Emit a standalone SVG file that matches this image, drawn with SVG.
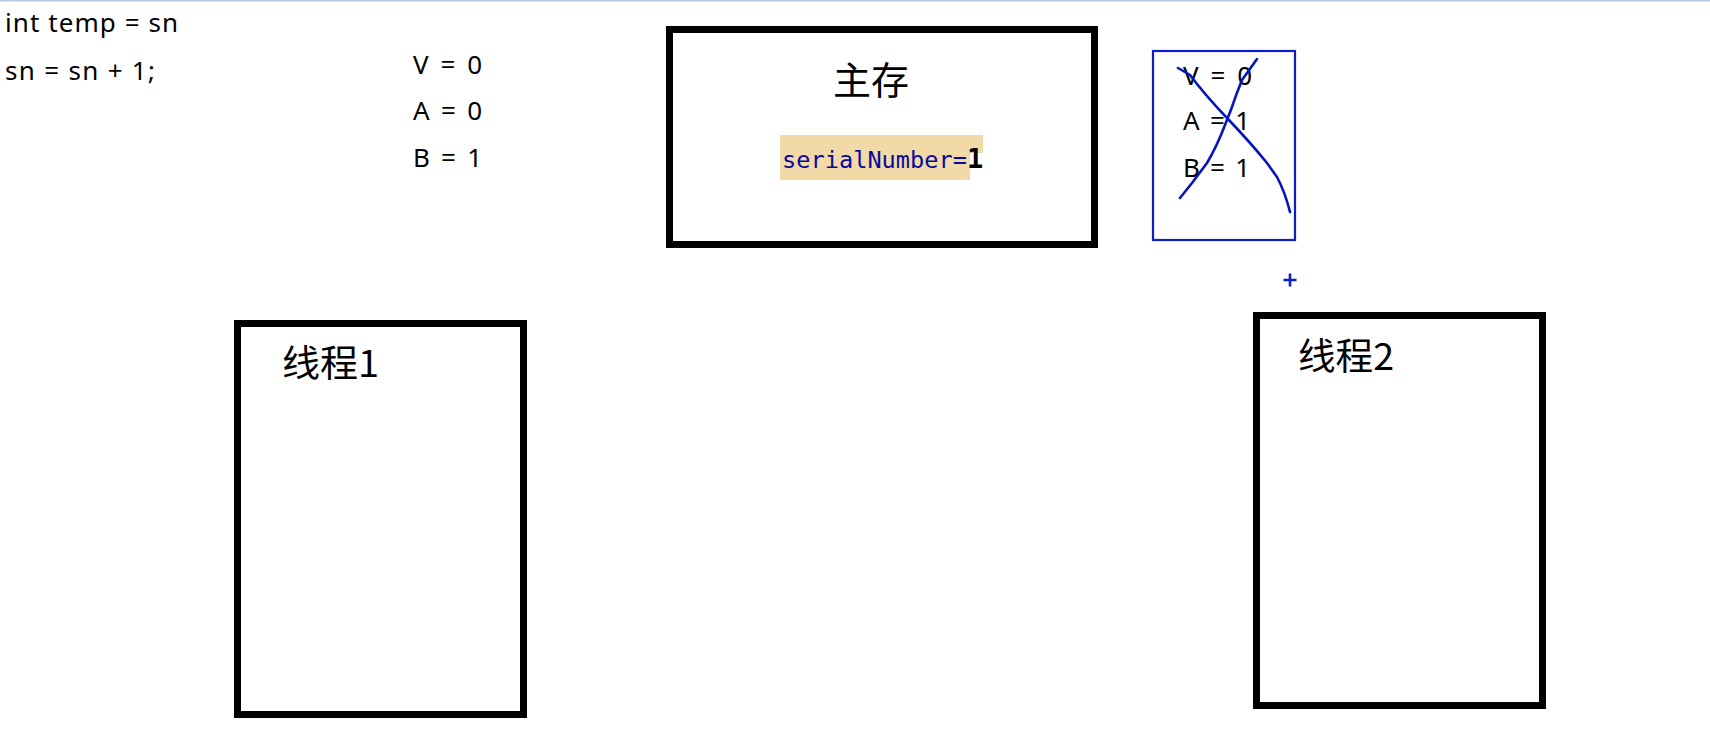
<svg xmlns="http://www.w3.org/2000/svg" width="1710" height="731" viewBox="0 0 1710 731">
<style>
.code{font-family:"Noto Sans","Noto Sans CJK SC",sans-serif;font-size:26px;fill:#000}
.cjk{font-family:"Noto Sans CJK SC","Noto Sans",sans-serif;fill:#000}
.box{fill:#fff;stroke:#000;stroke-width:7}
.mono{font-family:"DejaVu Sans Mono","Liberation Mono",monospace;font-size:23.6px}
.scrib{fill:none;stroke:#0614c0;stroke-width:2.6;stroke-linecap:round;stroke-linejoin:round}
</style>
<rect x="0" y="0" width="1710" height="731" fill="#fff"/>
<rect x="0" y="0" width="1710" height="1.5" fill="#b8c8dc"/>

<g id="code">
<text class="code" x="5" y="32" textLength="173" lengthAdjust="spacing">int temp = sn</text>
<text class="code" x="5" y="80" textLength="150" lengthAdjust="spacing">sn = sn + 1;</text>
</g>

<g id="vars1">
<text class="code" x="413" y="74" textLength="69" lengthAdjust="spacing">V = 0</text>
<text class="code" x="413" y="120" textLength="69" lengthAdjust="spacing">A = 0</text>
<text class="code" x="413" y="167" textLength="69" lengthAdjust="spacing">B = 1</text>
</g>

<g id="main-memory">
<rect class="box" x="669.5" y="29.5" width="425" height="215"/>
<text class="cjk" x="833" y="94" font-size="38">主存</text>
<rect x="780" y="135" width="190" height="45" fill="#f2d9a8"/>
<rect x="970" y="135" width="13" height="18" fill="#f2d9a8"/>
<text class="mono" x="782" y="168" fill="#0a0a9a" textLength="185" lengthAdjust="spacing">serialNumber=</text>
<text x="967" y="168" fill="#000" font-family="DejaVu Sans Mono, monospace" font-size="27" font-weight="600">1</text>
</g>

<g id="cache-box">
<rect x="1153" y="51" width="142" height="189" fill="#fff" stroke="#0a1ec8" stroke-width="2.2"/>
<text class="code" x="1183" y="85" textLength="69" lengthAdjust="spacing">V = 0</text>
<text class="code" x="1183" y="130" textLength="67" lengthAdjust="spacing">A = 1</text>
<text class="code" x="1183" y="177" textLength="67" lengthAdjust="spacing">B = 1</text>
<path class="scrib" d="M1178 68 L1190 75 Q1205 95 1227 118 Q1250 142 1267 163 L1277 177 Q1285 192 1290 212"/>
<path class="scrib" d="M1257 59 L1242 80 Q1236 95 1232 107 L1225 125 Q1217 146 1207 163 L1192 183 L1180 198"/>
</g>

<g id="cursor">
<path d="M1283.5 280 H1296.5 M1290 273.5 V286.5" stroke="#0a1ec8" stroke-width="2.6" fill="none"/>
</g>

<g id="thread1">
<rect class="box" x="237.5" y="323.5" width="286" height="391"/>
<text class="cjk" x="282" y="377" font-size="37" textLength="97" lengthAdjust="spacingAndGlyphs">线程1</text>
</g>

<g id="thread2">
<rect class="box" x="1256.5" y="315.5" width="286" height="390"/>
<text class="cjk" x="1298" y="370" font-size="37" textLength="96" lengthAdjust="spacingAndGlyphs">线程2</text>
</g>

<g id="connectors"></g>
</svg>
